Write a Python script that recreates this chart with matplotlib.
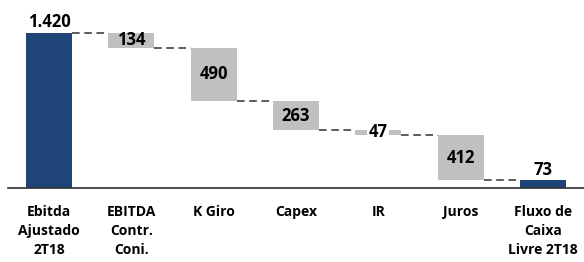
import matplotlib.pyplot as plt

categories = ["Ebitda\nAjustado\n2T18", "EBITDA\nContr.\nConi.", "K Giro", "Capex",
              "IR", "Juros", "Fluxo de\nCaixa\nLivre 2T18"]
values = [1420, -134, -490, -263, -47, -412, 73]
labels = ["1.420", "134", "490", "263", "47", "412", "73"]
is_total = [True, False, False, False, False, False, True]

blue = "#1f4477"
gray = "#c0c0c0"

plt.rcParams['font.family'] = ['Open Sans', 'DejaVu Sans']

fig = plt.figure(figsize=(5.84, 2.62), dpi=100)
ax = fig.add_axes([0.0137, 0.282, 0.9863, 0.718])

width = 0.56
running = 0
bottoms = []
tops = []
for i, v in enumerate(values):
    if is_total[i]:
        bottom, height = 0, v
        running = v
    else:
        bottom, height = running + v, -v
        running = running + v
    bottoms.append(bottom)
    tops.append(bottom + height)
    ax.bar(i, height, bottom=bottom, width=width,
           color=blue if is_total[i] else gray, zorder=2)

# connectors
level = values[0]
for i in range(len(values) - 1):
    if not is_total[i]:
        level = bottoms[i]
    ax.plot([i + width / 2, i + 1 - width / 2], [level, level], ls=(0, (5, 3)),
            color="#303030", lw=1.1, zorder=1)

# value labels
for i, v in enumerate(values):
    if is_total[i]:
        ax.text(i, tops[i] + 15, labels[i], ha="center", va="bottom",
                fontsize=12, fontweight="bold")
    else:
        mid = (bottoms[i] + tops[i]) / 2
        bbox = None
        if abs(v) < 100:
            bbox = dict(facecolor="white", edgecolor="none", pad=1)
        ax.text(i, mid, labels[i], ha="center", va="center",
                fontsize=12, fontweight="bold", bbox=bbox, zorder=3)

ax.set_xlim(-0.5, 6.5)
ax.set_ylim(0, 1722)
ax.set_xticks(range(len(categories)))
ax.set_xticklabels(categories, fontsize=10, fontweight="bold", linespacing=1.45)
ax.tick_params(axis="x", length=0, pad=12)
ax.set_yticks([])
for s in ["top", "right", "left"]:
    ax.spines[s].set_visible(False)
ax.spines["bottom"].set_color("#303030")
ax.spines["bottom"].set_linewidth(1.2)

fig.savefig("out.png", dpi=100)
